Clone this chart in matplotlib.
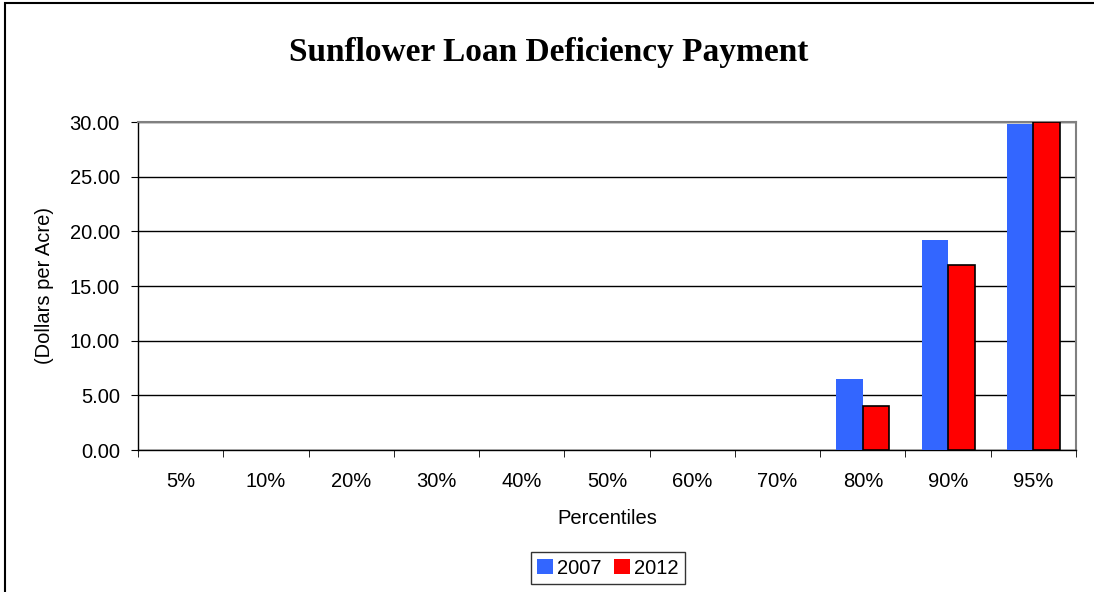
import numpy as np
import matplotlib
matplotlib.use('Agg')
import matplotlib.pyplot as plt
from matplotlib.patches import Rectangle
from matplotlib.ticker import FixedLocator, NullFormatter

plt.rcParams['font.family'] = ['Liberation Sans', 'DejaVu Sans']

percentiles = ['5%', '10%', '20%', '30%', '40%', '50%', '60%', '70%', '80%', '90%', '95%']
ldp_2007 = [0, 0, 0, 0, 0, 0, 0, 0, 6.48, 19.23, 29.85]
ldp_2012 = [0, 0, 0, 0, 0, 0, 0, 0, 4.05, 16.88, 30.0]

W, H = 1094, 592
fig = plt.figure(figsize=(W / 100, H / 100), dpi=100)
ax = fig.add_axes([138 / W, 1 - 450 / H, (1076 - 138) / W, (450 - 122) / H])

x = np.arange(len(percentiles))
bw = 0.31
ax.bar(x - bw / 2, ldp_2007, bw, color='#3366FF', linewidth=0, label='2007', zorder=3)
# zero-height bars get no outline, as in the original
lw_2012 = [1.2 if v > 0 else 0 for v in ldp_2012]
ax.bar(x + bw / 2, ldp_2012, bw, color='#FF0000', edgecolor='black', linewidth=lw_2012,
       label='2012', zorder=3)

fs = 14.5
ax.set_xlim(-0.5, len(percentiles) - 0.5)
ax.set_ylim(0, 30)
ax.set_yticks(np.arange(0, 31, 5))
ax.set_yticklabels(['%.2f' % v for v in np.arange(0, 31, 5)], fontsize=fs)
ax.set_xticks(x)
ax.set_xticklabels(percentiles, fontsize=fs)
ax.tick_params(axis='x', which='major', length=0, pad=16)
ax.xaxis.set_minor_locator(FixedLocator(np.arange(-0.5, len(percentiles), 1)))
ax.xaxis.set_minor_formatter(NullFormatter())
ax.tick_params(axis='x', which='minor', length=5, direction='out', color='black')
ax.tick_params(axis='y', length=5, direction='out', pad=8)
ax.grid(axis='y', color='black', linewidth=1, zorder=0)
for s in ax.spines.values():
    s.set_color('#808080')
    s.set_linewidth(1.5)
ax.spines['bottom'].set_color('black')
ax.spines['left'].set_color('black')
ax.spines['left'].set_linewidth(1)
ax.spines['bottom'].set_linewidth(1)

ax.set_ylabel('(Dollars per Acre)', fontsize=fs)
ax.yaxis.set_label_coords((45 - 138) / (1076 - 138), (450 - 286) / (450 - 122))
ax.set_xlabel('Percentiles', fontsize=fs)
ax.xaxis.set_label_coords(0.5, -(519 - 450) / (450 - 122))
ax.xaxis.label.set_va('center')
ax.yaxis.label.set_va('center')
fig.text(549 / W, 1 - 53 / H, 'Sunflower Loan Deficiency Payment', ha='center', va='center',
         fontsize=24, fontweight='bold', family='Liberation Serif')

leg = fig.legend(loc='center', bbox_to_anchor=(608 / W, 1 - 568 / H), ncol=2, fontsize=fs,
                 frameon=True, fancybox=False, edgecolor='black', handlelength=0.8,
                 handleheight=0.8, handletextpad=0.2, columnspacing=0.6, borderpad=0.3,
                 borderaxespad=0)
leg.get_frame().set_linewidth(1)

fig.patches.append(Rectangle((5 / W, -0.1), 1.2, 1 - 2.5 / H + 0.1, transform=fig.transFigure,
                             fill=False, edgecolor='black', linewidth=1.5))

fig.savefig('out.png', dpi=100)
